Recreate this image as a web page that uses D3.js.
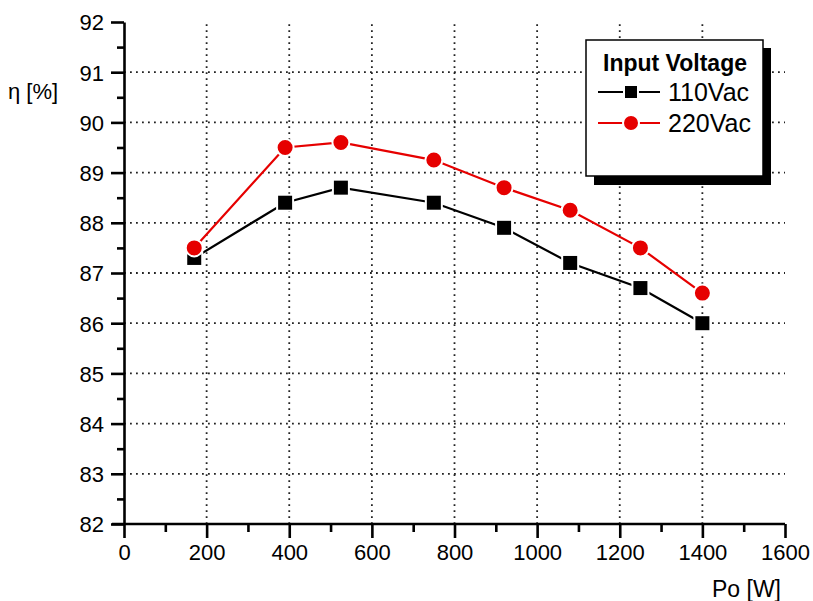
<!DOCTYPE html>
<html>
<head>
<meta charset="utf-8">
<script src="https://cdn.jsdelivr.net/npm/d3@7"></script>
<style>
  html, body { margin: 0; padding: 0; background: #fff; }
  svg { display: block; font-family: "Liberation Sans", Arial, sans-serif; }
</style>
</head>
<body>
<svg id="chart" width="813" height="601"></svg>
<script>
// Output power (W) and efficiency (%) for each input voltage
const power = [170, 390, 525, 750, 920, 1080, 1250, 1400];
const eff110 = [87.3, 88.4, 88.7, 88.4, 87.9, 87.2, 86.7, 86.0];
const eff220 = [87.5, 89.5, 89.6, 89.25, 88.7, 88.25, 87.5, 86.6];
const seriesNames = ["110Vac", "220Vac"];
const xTicks = [0, 200, 400, 600, 800, 1000, 1200, 1400, 1600];
const yTicks = [82, 83, 84, 85, 86, 87, 88, 89, 90, 91, 92];

const svg = d3.select("#chart");
const x = d3.scaleLinear().domain([0, 1600]).range([124, 785]);
const y = d3.scaleLinear().domain([82, 92]).range([524, 22]);

// dotted grid
const grid = svg.append("g")
  .attr("stroke", "#222").attr("stroke-width", 1.8)
  .attr("stroke-dasharray", "1.8,4.2");
grid.selectAll("line.v").data(xTicks.filter(t => t > 0 && t < 1600)).join("line")
  .attr("x1", d => x(d)).attr("x2", d => x(d))
  .attr("y1", y(82)).attr("y2", y(92));
grid.selectAll("line.h").data(yTicks.filter(t => t > 82 && t < 92)).join("line")
  .attr("x1", x(0)).attr("x2", x(1600))
  .attr("y1", d => y(d)).attr("y2", d => y(d));

// axes
function styleAxis(g) {
  g.attr("font-size", null).attr("font-family", null);
  g.selectAll("path.domain").attr("stroke", "#000").attr("stroke-width", 2.6);
  g.selectAll(".tick line").attr("stroke", "#000").attr("stroke-width", 2.6);
  g.selectAll(".tick text").attr("fill", "#000").style("font-size", "22px");
}
const xMinor = d3.range(100, 1600, 200);
const yMinor = d3.range(82.5, 92, 1);

const xAxisMinor = svg.append("g").attr("transform", `translate(0,${y(82)})`)
  .call(d3.axisBottom(x).tickValues(xMinor).tickSize(8).tickFormat("").tickSizeOuter(0));
xAxisMinor.select("path.domain").remove();
xAxisMinor.selectAll(".tick line").attr("stroke", "#000").attr("stroke-width", 2.6);

const yAxisMinor = svg.append("g").attr("transform", `translate(${x(0)},0)`)
  .call(d3.axisLeft(y).tickValues(yMinor).tickSize(7).tickFormat("").tickSizeOuter(0));
yAxisMinor.select("path.domain").remove();
yAxisMinor.selectAll(".tick line").attr("stroke", "#000").attr("stroke-width", 2.6);

const xAxis = svg.append("g").attr("transform", `translate(0,${y(82)})`)
  .call(d3.axisBottom(x).tickValues(xTicks).tickFormat(d3.format("d"))
    .tickSize(14).tickSizeOuter(0).tickPadding(6));
styleAxis(xAxis);
xAxis.select("path.domain").attr("d", `M${x(0) - 12},0H${x(1600)}`);

const yAxis = svg.append("g").attr("transform", `translate(${x(0)},0)`)
  .call(d3.axisLeft(y).tickValues(yTicks).tickFormat(d3.format("d"))
    .tickSize(13).tickSizeOuter(0).tickPadding(7));
styleAxis(yAxis);
yAxis.selectAll(".tick text").attr("dy", "0.36em");

// axis titles
svg.append("text").attr("x", 8).attr("y", 99)
  .style("font-size", "22px").text("η [%]");
svg.append("text").attr("x", 781).attr("y", 597).attr("text-anchor", "end")
  .style("font-size", "23px").text("Po [W]");

// series
const line = d3.line().x(d => x(d[0])).y(d => y(d[1]));
const data110 = power.map((p, i) => [p, eff110[i]]);
const data220 = power.map((p, i) => [p, eff220[i]]);

function drawSquares(g, data, size) {
  g.selectAll("rect").data(data).join("rect")
    .attr("x", d => x(d[0]) - size / 2).attr("y", d => y(d[1]) - size / 2)
    .attr("width", size).attr("height", size)
    .attr("fill", "#000").attr("stroke", "#fff").attr("stroke-width", 2);
}
function drawCircles(g, data, r) {
  g.selectAll("circle").data(data).join("circle")
    .attr("cx", d => x(d[0])).attr("cy", d => y(d[1])).attr("r", r)
    .attr("fill", "#e60000").attr("stroke", "#fff").attr("stroke-width", 2);
}

svg.append("path").datum(data110).attr("d", line)
  .attr("fill", "none").attr("stroke", "#000").attr("stroke-width", 2.2);
drawSquares(svg.append("g"), data110, 16);
svg.append("path").datum(data220).attr("d", line)
  .attr("fill", "none").attr("stroke", "#e60000").attr("stroke-width", 2.2);
drawCircles(svg.append("g"), data220, 8.5);

// legend with drop shadow
const lg = svg.append("g");
lg.append("rect").attr("x", 594).attr("y", 48).attr("width", 177).attr("height", 137).attr("fill", "#000");
lg.append("rect").attr("x", 586).attr("y", 40).attr("width", 177).attr("height", 136)
  .attr("fill", "#fff").attr("stroke", "#000").attr("stroke-width", 1.5);
lg.append("text").attr("x", 675).attr("y", 71).attr("text-anchor", "middle")
  .style("font-size", "23px").style("font-weight", "bold").text("Input Voltage");

const rowY = [92, 123];
lg.append("line").attr("x1", 598).attr("x2", 660).attr("y1", rowY[0]).attr("y2", rowY[0])
  .attr("stroke", "#000").attr("stroke-width", 2.2);
drawSquares(lg.append("g"), [[x.invert(631), y.invert(rowY[0])]], 14);
lg.append("line").attr("x1", 598).attr("x2", 660).attr("y1", rowY[1]).attr("y2", rowY[1])
  .attr("stroke", "#e60000").attr("stroke-width", 2.2);
drawCircles(lg.append("g"), [[x.invert(631), y.invert(rowY[1])]], 8);
lg.selectAll("text.item").data(seriesNames).join("text").attr("class", "item")
  .attr("x", 668).attr("y", (d, i) => rowY[i] + 9)
  .style("font-size", "25px").text(d => d);
</script>
</body>
</html>
